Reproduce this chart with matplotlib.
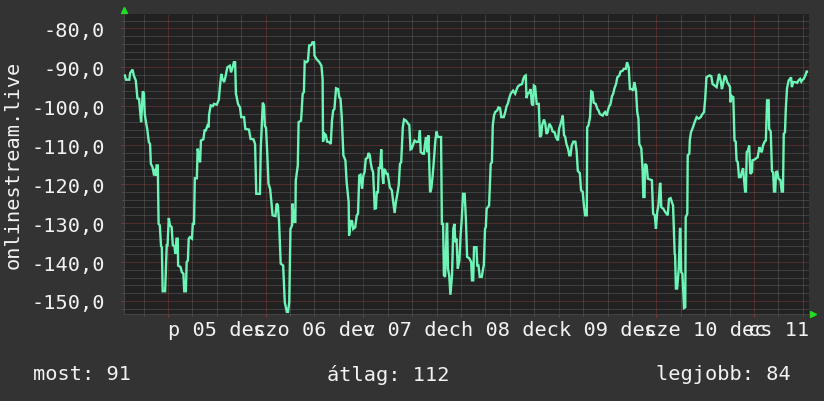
import matplotlib
matplotlib.use("Agg")
import matplotlib.pyplot as plt
from matplotlib.ticker import MultipleLocator, FixedLocator, FuncFormatter
import matplotlib.transforms as mtransforms

# ---- data: hours relative to 5 Dec 00:00, signal values ----
hours = [
    -10.6, -10.3, -9.5, -9.3, -8.7, -8.4, -7.9, -7.5, -7.1, -6.6, -6.4, -6.2, -5.9, -5.7, -5.4, -5.1,
    -4.7, -4.4, -4.2, -3.8, -3.4, -3.1, -2.9, -2.8, -2.5, -2.3, -2.0, -1.7, -1.5, -1.3, -0.7, -0.3,
    -0.1, 0.2, 0.5, 0.9, 1.2, 1.6, 1.8, 2.1, 2.4, 2.5, 3.1, 3.4, 3.8, 4.0, 4.4, 4.6,
    4.9, 5.1, 5.4, 5.9, 6.1, 6.4, 6.6, 7.1, 7.3, 7.5, 7.9, 8.1, 8.7, 9.0, 9.3, 9.7,
    10.0, 10.1, 10.5, 11.0, 11.3, 12.0, 12.5, 12.8, 13.1, 13.4, 13.8, 14.1, 14.6, 15.2, 15.5, 15.9,
    16.2, 16.5, 16.7, 16.9, 17.2, 17.7, 18.0, 18.7, 19.0, 19.9, 20.3, 21.0, 21.4, 21.7, 22.6, 22.8,
    23.1, 23.3, 23.6, 23.8, 24.1, 24.4, 24.7, 25.1, 25.4, 25.7, 26.4, 26.7, 27.0, 27.3, 27.7, 28.3,
    28.7, 29.2, 29.5, 29.8, 30.1, 30.5, 30.6, 31.0, 31.3, 31.4, 31.9, 32.1, 32.7, 33.1, 33.4, 33.6,
    34.1, 34.4, 34.7, 35.2, 35.5, 35.9, 36.0, 36.5, 37.2, 37.7, 38.0, 38.1, 38.5, 38.8, 39.1, 39.6,
    40.0, 40.3, 40.6, 40.9, 41.3, 41.8, 42.1, 42.4, 42.7, 43.1, 43.6, 43.9, 44.4, 44.5, 44.9, 45.2,
    45.5, 46.0, 46.4, 46.7, 47.0, 47.3, 47.7, 48.0, 48.3, 48.6, 49.0, 49.3, 49.6, 49.8, 50.1, 50.4,
    50.8, 51.1, 51.3, 51.6, 51.8, 52.1, 52.4, 52.7, 52.9, 53.1, 53.4, 53.7, 54.0, 54.5, 55.0, 55.3,
    55.7, 56.0, 56.3, 56.7, 57.0, 57.3, 57.7, 58.0, 58.5, 59.0, 59.3, 59.6, 59.9, 60.3, 60.6, 61.1,
    61.6, 61.9, 62.1, 62.6, 62.9, 63.1, 63.4, 63.6, 63.7, 64.0, 64.2, 64.4, 64.7, 65.0, 65.3, 65.7,
    66.0, 66.3, 67.1, 67.3, 67.6, 67.8, 68.1, 68.5, 68.6, 68.8, 69.1, 69.4, 69.8, 70.1, 70.4, 70.6,
    70.9, 71.2, 71.6, 71.9, 72.2, 72.5, 72.9, 73.2, 73.5, 74.0, 74.5, 74.7, 75.0, 75.2, 75.8, 76.0,
    76.3, 76.6, 77.1, 77.5, 77.6, 77.9, 78.1, 78.3, 78.6, 78.9, 79.3, 79.6, 79.8, 80.1, 80.4, 80.9,
    81.2, 81.6, 81.9, 82.5, 82.9, 83.2, 83.5, 83.8, 84.2, 84.5, 84.8, 85.3, 85.7, 86.0, 86.5, 87.0,
    87.3, 87.6, 87.9, 88.1, 88.4, 88.8, 89.1, 89.4, 89.7, 89.9, 90.2, 90.6, 91.1, 91.4, 91.7, 91.9,
    92.4, 92.7, 93.0, 93.3, 93.7, 94.2, 94.5, 95.0, 95.3, 95.8, 96.1, 96.6, 97.0, 97.3, 97.6, 97.9,
    98.3, 98.6, 98.9, 99.2, 99.6, 100.1, 100.4, 100.7, 101.2, 101.5, 101.9, 102.2, 102.5, 102.9, 103.0, 103.3,
    103.7, 104.0, 104.3, 104.6, 105.1, 105.5, 105.8, 106.1, 106.8, 107.1, 107.4, 107.8, 108.1, 108.4, 108.7, 109.1,
    109.4, 109.7, 110.1, 110.4, 110.9, 111.2, 111.7, 112.0, 112.5, 112.8, 113.2, 113.5, 114.0, 114.3, 114.6, 115.0,
    115.3, 115.6, 115.8, 116.3, 116.6, 116.8, 117.1, 117.2, 117.6, 117.9, 118.9, 119.2, 119.6, 119.9, 120.2, 120.5,
    120.9, 121.0, 121.2, 121.7, 122.2, 122.5, 122.8, 123.1, 123.5, 123.8, 124.1, 124.5, 124.6, 124.8, 125.1, 125.5,
    125.8, 125.9, 126.1, 126.4, 126.8, 127.1, 127.2, 127.6, 127.7, 128.1, 128.2, 128.5, 129.0, 129.4, 129.9, 130.4,
    130.9, 131.2, 131.7, 132.0, 132.3, 132.7, 133.1, 133.5, 133.8, 134.3, 134.8, 135.1, 135.4, 135.8, 136.1, 136.4,
    136.8, 137.1, 137.4, 137.7, 138.1, 138.2, 138.5, 138.9, 139.2, 139.5, 139.7, 140.0, 140.3, 140.7, 141.0, 141.3,
    141.5, 141.8, 142.0, 142.2, 142.5, 142.8, 143.1, 143.5, 143.6, 144.1, 144.6, 144.9, 145.3, 145.6, 145.9, 146.2,
    146.6, 146.9, 147.2, 147.6, 147.7, 148.1, 148.4, 148.7, 148.9, 149.2, 149.4, 149.7, 150.0, 150.5, 150.8, 151.1,
    151.3, 151.6, 151.8, 152.1, 152.5, 152.8, 153.1, 153.3, 153.6, 154.1, 154.6, 154.9, 155.3, 155.6, 155.9, 156.2,
    156.6, 156.9, 157.0,
]
values = [
    -92.1, -93.2, -93.2, -91.5, -90.6, -92.1, -93.4, -98.0, -98.1, -104.1, -100.7, -96.2, -96.6, -102.0, -104.1, -105.8,
    -109.2, -109.7, -114.8, -115.6, -117.8, -116.1, -117.8, -115.2, -115.2, -130.2, -130.6, -135.9, -136.2, -147.5, -147.5, -135.7,
    -135.7, -128.7, -130.6, -131.0, -135.7, -135.9, -137.9, -134.0, -134.0, -140.9, -141.3, -142.6, -143.0, -147.5, -147.5, -140.0,
    -139.6, -134.0, -133.6, -134.0, -130.2, -130.2, -118.5, -118.5, -110.9, -112.2, -114.4, -108.8, -108.5, -106.2, -106.2, -105.0,
    -105.4, -102.2, -99.8, -100.0, -99.4, -99.6, -98.3, -94.7, -91.7, -93.0, -93.8, -92.6, -90.0, -89.6, -91.3, -90.0,
    -88.7, -88.7, -96.8, -97.7, -99.4, -100.3, -102.8, -102.8, -105.8, -106.0, -108.4, -108.5, -109.7, -122.5, -122.5, -110.9,
    -104.1, -99.1, -99.8, -105.0, -105.6, -112.2, -119.9, -121.2, -124.4, -128.0, -128.2, -125.0, -125.4, -129.7, -140.4, -140.9,
    -150.3, -152.8, -152.8, -150.3, -131.5, -130.6, -125.0, -129.7, -129.7, -119.1, -115.2, -104.1, -103.7, -96.8, -96.4, -88.5,
    -88.7, -88.3, -84.4, -84.3, -83.6, -83.6, -87.0, -87.9, -88.7, -89.6, -93.0, -109.1, -107.1, -107.4, -109.1, -109.2,
    -109.7, -103.7, -101.1, -100.7, -95.4, -95.6, -97.7, -98.1, -102.8, -112.6, -113.9, -119.5, -124.6, -133.2, -129.7, -129.3,
    -131.5, -131.1, -128.0, -127.6, -117.8, -117.6, -121.2, -117.8, -116.9, -113.5, -113.3, -112.0, -112.6, -114.4, -116.1, -116.9,
    -126.3, -126.2, -122.1, -122.1, -115.6, -116.1, -111.1, -117.8, -119.9, -116.1, -116.5, -117.4, -117.4, -120.8, -121.6, -124.2,
    -127.4, -124.6, -122.9, -120.3, -114.8, -114.4, -105.4, -103.4, -103.7, -104.5, -104.8, -111.1, -110.9, -109.7, -108.8, -109.2,
    -109.1, -106.2, -111.8, -112.2, -112.2, -110.1, -107.9, -110.1, -111.8, -107.5, -115.2, -122.1, -121.2, -118.2, -114.4, -108.8,
    -106.5, -107.9, -107.9, -130.2, -130.2, -143.4, -143.8, -130.2, -130.2, -141.7, -143.4, -148.4, -143.4, -131.5, -130.2, -134.9,
    -134.0, -141.7, -139.6, -133.2, -128.7, -122.5, -122.5, -128.9, -138.7, -139.0, -140.0, -144.7, -144.7, -136.2, -136.2, -140.9,
    -140.9, -143.8, -143.8, -141.3, -140.9, -131.5, -131.0, -126.3, -125.9, -125.5, -114.8, -114.4, -105.0, -102.4, -101.5, -101.1,
    -100.3, -100.5, -102.8, -102.8, -101.4, -100.0, -99.4, -98.1, -96.8, -96.4, -96.0, -96.8, -95.6, -94.9, -94.5, -94.3,
    -93.0, -92.3, -92.1, -97.9, -96.8, -96.4, -95.6, -99.4, -99.8, -94.7, -94.9, -99.4, -99.4, -107.9, -107.5, -105.0,
    -103.4, -104.5, -107.1, -106.7, -104.5, -105.4, -106.5, -106.7, -107.9, -108.8, -105.8, -104.1, -102.4, -107.4, -107.9, -109.7,
    -110.9, -112.6, -112.6, -110.1, -109.1, -109.1, -111.4, -116.6, -117.2, -121.6, -122.0, -125.5, -128.0, -128.0, -105.4, -105.0,
    -102.8, -96.2, -96.4, -99.1, -99.4, -100.7, -101.1, -102.0, -102.4, -101.8, -101.5, -102.4, -101.1, -100.0, -99.6, -97.4,
    -96.8, -95.4, -94.3, -92.6, -92.1, -91.1, -90.9, -90.4, -90.4, -88.7, -90.0, -95.6, -95.6, -96.0, -93.8, -96.0,
    -101.5, -103.2, -109.7, -110.8, -116.1, -123.3, -123.3, -114.8, -115.2, -118.6, -119.0, -127.6, -128.0, -131.5, -127.2, -125.5,
    -119.7, -119.9, -125.9, -126.3, -127.2, -127.6, -128.0, -123.8, -123.6, -124.6, -125.5, -137.9, -138.2, -146.8, -146.8, -141.7,
    -131.5, -131.5, -142.6, -143.0, -151.8, -151.6, -128.5, -127.6, -112.6, -112.2, -108.8, -106.7, -105.4, -104.1, -102.8, -103.2,
    -102.8, -102.2, -101.5, -98.1, -92.6, -92.3, -92.1, -92.3, -94.3, -94.7, -95.1, -93.4, -91.7, -93.4, -95.6, -94.3,
    -92.1, -92.6, -93.8, -94.3, -95.1, -99.0, -97.4, -97.7, -108.8, -109.1, -113.9, -114.4, -118.2, -118.2, -116.9, -115.9,
    -118.2, -121.9, -121.9, -111.8, -111.4, -110.1, -117.4, -116.9, -113.9, -113.7, -113.3, -113.1, -110.5, -111.4, -111.8, -110.1,
    -109.1, -108.8, -98.5, -98.5, -105.8, -106.5, -116.6, -117.1, -121.9, -121.9, -116.9, -116.8, -118.6, -119.0, -121.9, -121.9,
    -107.1, -106.7, -100.7, -95.4, -93.4, -93.0, -92.6, -95.1, -93.8, -93.8, -94.0, -93.4, -93.0, -93.7, -93.2, -93.0,
    -92.1, -91.1, -91.1,
]

day_label_hours = [12, 36, 60, 84, 108, 132, 156]
day_labels = ["p 05 dec", "szo 06 dec", "v 07 dec", "h 08 dec", "k 09 dec", "sze 10 dec", "cs 11 dec"]
y_ticks = [-80, -90, -100, -110, -120, -130, -140, -150]
y_axis_title = "onlinestream.live"
legend_texts = ["most: 91", "átlag: 112", "legjobb: 84"]

# ---- style ----
OUTER = "#333333"
PLOT_BG = "#212121"
TXT = "#f2f2f2"
LINE = "#6cf5b6"
MINOR = "#5e5e5e"
MAJOR = "#7e3a3a"
FONT = "DejaVu Sans Mono"
FS = 14.6

W, H = 824, 402
fig = plt.figure(figsize=(W / 100, H / 100), dpi=100, facecolor=OUTER)
L, R, T, B = 124, 809, 15, 315
ax = fig.add_axes([L / W, 1 - B / H, (R - L) / W, (B - T) / H])
ax.set_facecolor(PLOT_BG)

ax.set_xlim(-10.8, 157.5)
ax.set_ylim(-153.34, -76.33)

ax.xaxis.set_major_locator(MultipleLocator(24))
ax.xaxis.set_minor_locator(MultipleLocator(6))
ax.yaxis.set_major_locator(FixedLocator(y_ticks))
ax.yaxis.set_minor_locator(MultipleLocator(2))

ax.grid(which="minor", color=MINOR, linestyle=(0, (1, 1)), linewidth=0.72)
ax.grid(which="major", color=MAJOR, linestyle=(0, (1, 1)), linewidth=0.72)
ax.set_axisbelow(True)

ax.yaxis.set_major_formatter(FuncFormatter(lambda v, p: f"{v:.1f}".replace(".", ",")))
ax.tick_params(axis="x", which="major", length=2.5, color=MAJOR, labelbottom=False)
ax.tick_params(axis="x", which="minor", length=1.5, color=MINOR)
ax.tick_params(axis="y", which="major", length=2.5, color=MAJOR, pad=11,
               labelcolor=TXT, labelsize=FS, labelfontfamily=FONT)
ax.tick_params(axis="y", which="minor", length=1.5, color=MINOR)

for s in ["top", "right"]:
    ax.spines[s].set_visible(False)
for s in ["left", "bottom"]:
    ax.spines[s].set_color("#444444")
    ax.spines[s].set_linewidth(0.8)

ax.plot(hours, values, color=LINE, linewidth=1.7, solid_joinstyle="miter", zorder=3)

# day labels centred at noon; clipped just right of the plot like the reference
trans = mtransforms.blended_transform_factory(ax.transData, ax.transAxes)
clip = mtransforms.Bbox.from_extents(0, 0, 812, H)
for h, lab in zip(day_label_hours, day_labels):
    t = ax.text(h, -0.053, lab, transform=trans, ha="center", va="center",
                color=TXT, fontsize=FS, family=FONT, clip_on=True)
    t.set_clip_box(mtransforms.TransformedBbox(clip, mtransforms.IdentityTransform()))

# arrows
ax.plot([0], [1.0 + 4 / 300], marker="^", color="#22dd22", markersize=4.5,
        transform=ax.transAxes, clip_on=False, linestyle="none")
ax.plot([1.0 + 4 / 685], [0], marker=">", color="#22dd22", markersize=4.5,
        transform=ax.transAxes, clip_on=False, linestyle="none")

fig.text(13 / W, 1 - 165 / H, y_axis_title, rotation=90, ha="center", va="center",
         color=TXT, fontsize=FS, family=FONT)

fig.text(33 / W, 1 - 375 / H, legend_texts[0], ha="left", va="center",
         color=TXT, fontsize=FS, family=FONT)
fig.text(327 / W, 1 - 375 / H, legend_texts[1], ha="left", va="center",
         color=TXT, fontsize=FS, family=FONT)
fig.text(791 / W, 1 - 375 / H, legend_texts[2], ha="right", va="center",
         color=TXT, fontsize=FS, family=FONT)

fig.savefig("out.png", dpi=100, facecolor=OUTER)
